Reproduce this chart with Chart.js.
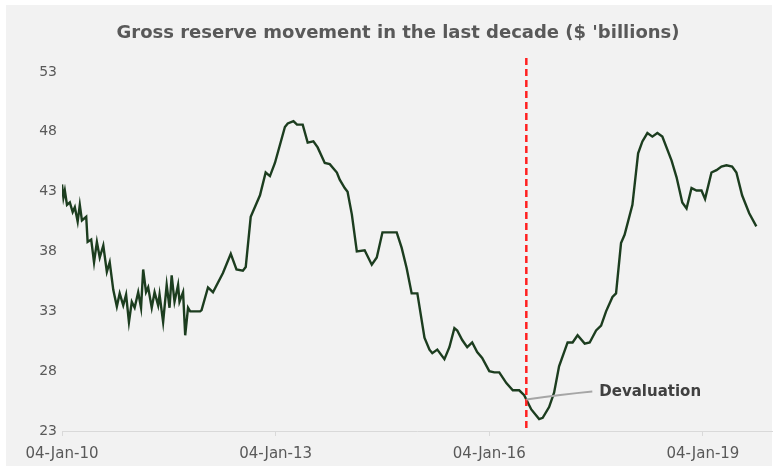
<!DOCTYPE html>
<html>
<head>
<meta charset="utf-8">
<script src="https://cdn.jsdelivr.net/npm/chart.js@4/dist/chart.umd.min.js"></script>
<style>
  html, body { margin: 0; padding: 0; background: #ffffff; }
  #wrap { width: 777px; height: 470px; }
</style>
</head>
<body>
<div id="wrap"><canvas id="reserveChart" width="777" height="470"></canvas></div>
<script>
// weekly reading dates as fractional years, and gross reserves ($bn)
const weekDates = [
  2010.00, 2010.02, 2010.04, 2010.07, 2010.11, 2010.15, 2010.18, 2010.22, 2010.25, 2010.28,
  2010.34, 2010.36, 2010.41, 2010.45, 2010.49, 2010.53, 2010.58, 2010.63, 2010.67, 2010.72,
  2010.77, 2010.81, 2010.86, 2010.90, 2010.94, 2010.98,
  2011.02, 2011.07, 2011.11, 2011.14, 2011.18, 2011.21, 2011.26, 2011.30, 2011.35, 2011.37,
  2011.42, 2011.47, 2011.51, 2011.54, 2011.58, 2011.63, 2011.65, 2011.70, 2011.73, 2011.77,
  2011.80, 2011.94, 2011.96,
  2012.05, 2012.12, 2012.26, 2012.37, 2012.45, 2012.54, 2012.58, 2012.65, 2012.78, 2012.86,
  2012.92, 2012.99,
  2013.13, 2013.17, 2013.25, 2013.30, 2013.38, 2013.45, 2013.53, 2013.59, 2013.69, 2013.76,
  2013.86, 2013.90, 2013.97,
  2014.01, 2014.07, 2014.14, 2014.25, 2014.35, 2014.42, 2014.50, 2014.70, 2014.77, 2014.84,
  2014.91, 2014.99,
  2015.09, 2015.16, 2015.20, 2015.27, 2015.37, 2015.44, 2015.51, 2015.55, 2015.62, 2015.69,
  2015.76, 2015.83, 2015.90,
  2016.00, 2016.07, 2016.14, 2016.24, 2016.33, 2016.42, 2016.49, 2016.59, 2016.70, 2016.75,
  2016.84, 2016.91, 2016.98,
  2017.10, 2017.17, 2017.24, 2017.34, 2017.41, 2017.50, 2017.57, 2017.64, 2017.73, 2017.78,
  2017.85, 2017.90,
  2018.01, 2018.09, 2018.15, 2018.22, 2018.29, 2018.36, 2018.43, 2018.56, 2018.63, 2018.71,
  2018.77, 2018.84, 2018.91, 2018.98,
  2019.03, 2019.12, 2019.19, 2019.26, 2019.33, 2019.41, 2019.47, 2019.55, 2019.65, 2019.75
];
const reserves = [
  43.6, 42.5, 43.1, 41.9, 42.1, 41.3, 41.7, 40.5, 41.9, 40.6,
  40.9, 38.8, 39.0, 37.1, 38.8, 37.5, 38.5, 36.3, 37.1, 34.8,
  33.4, 34.5, 33.5, 34.4, 32.1, 33.8,
  33.3, 34.6, 33.3, 36.5, 34.6, 35.0, 33.3, 34.6, 33.5, 34.4,
  32.1, 35.2, 33.3, 36.0, 33.8, 35.2, 33.8, 34.6, 31.0, 33.3,
  33.0, 33.0, 33.1,
  35.0, 34.6, 36.2, 37.8, 36.5, 36.4, 36.7, 40.9, 42.7, 44.6,
  44.3, 45.4,
  48.4, 48.7, 48.9, 48.6, 48.6, 47.1, 47.2, 46.7, 45.4, 45.3,
  44.6, 44.0, 43.3,
  43.0, 41.1, 38.0, 38.1, 36.9, 37.5, 39.6, 39.6, 38.3, 36.6,
  34.5, 34.5,
  30.8, 29.8, 29.5, 29.8, 29.0, 30.0, 31.6, 31.4, 30.6, 30.0,
  30.4, 29.6, 29.1,
  28.0, 27.9, 27.9, 27.0, 26.4, 26.4, 26.0, 24.8, 24.0, 24.1,
  25.0, 26.2, 28.4,
  30.4, 30.4, 31.0, 30.3, 30.4, 31.4, 31.8, 33.0, 34.2, 34.5,
  38.7, 39.4,
  41.9, 46.2, 47.2, 47.9, 47.6, 47.9, 47.6, 45.6, 44.2, 42.1,
  41.6, 43.3, 43.1, 43.1,
  42.4, 44.6, 44.8, 45.1, 45.2, 45.1, 44.6, 42.7, 41.2, 40.1
];

const tickYears = [2010, 2013, 2016, 2019];
const tickLabels = ["04-Jan-10", "04-Jan-13", "04-Jan-16", "04-Jan-19"];

const chartTitle = "Gross reserve movement in the last decade ($ 'billions)";

// float of the pound
const devaluationDate = 2016.52;
const devaluationLevel = 25.8;
const devaluationText = "Devaluation";

Chart.defaults.font.family = "'DejaVu Sans', Verdana, sans-serif";
Chart.defaults.color = "#595959";

// grey panel and heading
const panelBg = {
  id: "panelBg",
  beforeDraw(chart) {
    const c = chart.ctx;
    c.save();
    c.fillStyle = "#f2f2f2";
    c.fillRect(6, 5, 766, 461);
    c.fillStyle = "#595959";
    c.font = "bold 18px 'DejaVu Sans', Verdana, sans-serif";
    c.textAlign = "center";
    c.textBaseline = "middle";
    c.fillText(chartTitle, 398, 33);
    c.restore();
  }
};

// red dashed marker plus callout
const devaluationMark = {
  id: "devaluationMark",
  afterDatasetsDraw(chart) {
    const c = chart.ctx;
    const xs = chart.scales.x, ys = chart.scales.y;
    const x = xs.getPixelForValue(devaluationDate);
    const y = ys.getPixelForValue(devaluationLevel);
    c.save();
    c.strokeStyle = "#ff2020";
    c.lineWidth = 2.5;
    c.setLineDash([7, 4]);
    c.beginPath();
    c.moveTo(x, chart.chartArea.top - 14);
    c.lineTo(x, chart.chartArea.bottom);
    c.stroke();

    c.setLineDash([]);
    c.strokeStyle = "#a6a6a6";
    c.lineWidth = 2;
    c.beginPath();
    c.moveTo(x, y + 2);
    c.quadraticCurveTo(x + 35, y - 3, x + 66, y - 6);
    c.stroke();

    c.fillStyle = "#404040";
    c.font = "bold 15px 'DejaVu Sans', Verdana, sans-serif";
    c.textBaseline = "middle";
    c.fillText(devaluationText, x + 73, y - 5);
    c.restore();
  }
};

new Chart(document.getElementById("reserveChart"), {
  type: "line",
  data: {
    datasets: [{
      data: weekDates.map((d, i) => ({ x: d, y: reserves[i] })),
      borderColor: "#1c3d1f",
      borderWidth: 2.4,
      pointRadius: 0,
      tension: 0
    }]
  },
  options: {
    responsive: false,
    animation: false,
    layout: { padding: { left: 0, right: 5, top: 72, bottom: 0 } },
    plugins: {
      legend: { display: false },
      tooltip: { enabled: false },
      title: { display: false }
    },
    scales: {
      x: {
        type: "linear",
        min: 2010,
        max: 2019.97,
        afterBuildTicks(scale) {
          scale.ticks = tickYears.map(v => ({ value: v }));
        },
        afterFit(scale) { scale.height = 39; },
        ticks: {
          autoSkip: false,
          maxRotation: 0,
          padding: 9,
          font: { size: 15 },
          callback: (v) => tickLabels[tickYears.indexOf(v)]
        },
        grid: { drawOnChartArea: false, tickLength: 5, color: "#d9d9d9" },
        border: { color: "#d9d9d9", width: 1 }
      },
      y: {
        min: 23,
        max: 53,
        afterFit(scale) { scale.width = 62; },
        ticks: { stepSize: 5, padding: 5, font: { size: 14 } },
        grid: { display: false, drawTicks: false },
        border: { display: false }
      }
    }
  },
  plugins: [panelBg, devaluationMark]
});
</script>
</body>
</html>
